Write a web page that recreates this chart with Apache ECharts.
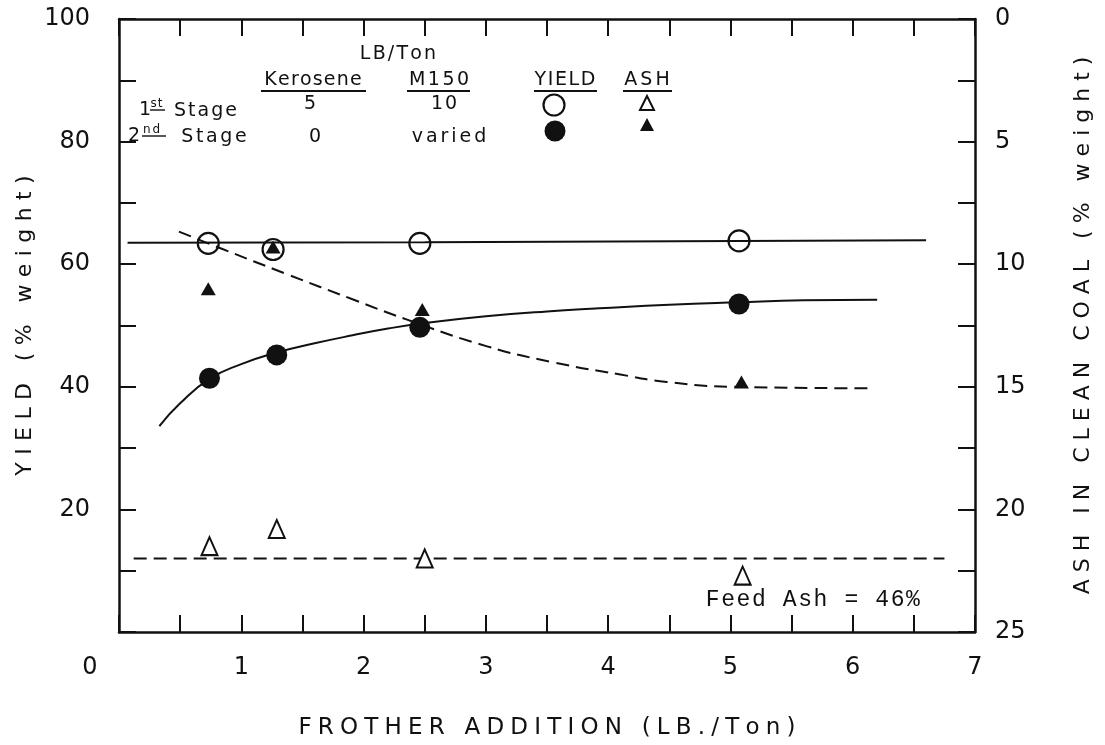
<!DOCTYPE html>
<html><head><meta charset="utf-8">
<script src="https://cdn.jsdelivr.net/npm/echarts@6/dist/echarts.min.js"></script>
<style>html,body{margin:0;padding:0;background:#fff;overflow:hidden}#c{width:1105px;height:745px}</style>
</head><body><div id="c"></div>
<script>
// ---- tick labels ----
const xTickLabels = ['0', '1', '2', '3', '4', '5', '6', '7'];
const yieldTickLabels = ['20', '40', '60', '80', '100'];
const ashTickLabels = ['0', '5', '10', '15', '20', '25'];

// ---- measured points ----
const yield1stX = [0.73, 1.26, 2.46, 5.07];
const yield1st  = [63.4, 62.4, 63.4, 63.8];
const yield2ndX = [0.74, 1.29, 2.46, 5.07];
const yield2nd  = [41.4, 45.2, 49.7, 53.5];
const ash1stX   = [0.74, 1.29, 2.50, 5.10];
const ash1st    = [21.5, 20.8, 22.0, 22.7];
const ash2ndX   = [0.73, 1.26, 2.48, 5.09];
const ash2nd    = [11.0, 9.3, 11.85, 14.8];

// ---- fitted curves ----
const yield1stFitX = [0.07, 2.5, 6.6];
const yield1stFit  = [63.5, 63.6, 63.9];
const yield2ndFitX = [0.33, 0.5, 0.74, 1.0, 1.29, 1.6, 1.91, 2.2, 2.5, 3.0, 3.5, 3.93, 4.5, 5.07, 5.6, 6.2];
const yield2ndFit  = [33.6, 37.3, 41.3, 43.7, 45.6, 47.1, 48.4, 49.5, 50.4, 51.5, 52.3, 52.8, 53.4, 53.8, 54.1, 54.2];
const ash1stFitX = [0.12, 6.75];
const ash1stFit  = [22.0, 22.0];
const ash2ndFitX = [0.49, 0.83, 1.37, 1.92, 2.35, 3.01, 3.55, 4.10, 4.48, 5.02, 6.13];
const ash2ndFit  = [8.67, 9.35, 10.4, 11.45, 12.25, 13.35, 14.0, 14.5, 14.8, 15.0, 15.06];

const INK = '#111';
const FONT = 'DejaVu Sans';

function pairs(xs, ys) { return xs.map((x, i) => [x, ys[i]]); }
// letter-spaced text via rich tokens
function sp(str, key) { return str.split('').map(ch => '{' + key + '|' + ch + '}').join(''); }
function spStyle(size, gap, family) {
  return { fontSize: size, fontFamily: family || FONT, color: INK, fill: INK, padding: [0, gap / 2, 0, gap / 2] };
}

const chart = echarts.init(document.getElementById('c'), null, { renderer: 'canvas', width: 1105, height: 745 });

const tickStyle = { show: true, inside: true, length: 17, lineStyle: { color: INK, width: 2 } };
const lineStyleAxis = { show: true, onZero: false, lineStyle: { color: INK, width: 2.5 } };

function legendText(str, x, y, size, gap, align, family) {
  const r = { k: spStyle(size, gap, family) };
  return {
    type: 'text', x: x, y: y, z: 10,
    style: { text: sp(str, 'k'), rich: r, align: align || 'center', verticalAlign: 'middle', fill: INK, fontSize: size, fontFamily: family || FONT }
  };
}
function uline(x1, x2, y, w) {
  return { type: 'line', z: 10, shape: { x1: x1, y1: y, x2: x2, y2: y }, style: { stroke: INK, lineWidth: w || 1.8 } };
}

const graphics = [
  legendText('LB/Ton', 398, 54, 19, 2.2),
  legendText('Kerosene', 313, 80, 19, 1.2), uline(261, 366, 91),
  legendText('M150', 439, 80, 19, 2.5), uline(407, 470, 91),
  legendText('YIELD', 565, 80, 19, 1.6), uline(534, 597, 91),
  legendText('ASH', 647, 80, 19, 3), uline(623, 672, 91),
  legendText('5', 310, 104, 19, 0),
  legendText('10', 444, 104, 19, 2),
  legendText('0', 315, 137, 19, 0),
  legendText('varied', 449, 137, 19, 3),
  // 1st Stage
  legendText('1', 139, 110, 19, 0, 'left'),
  legendText('st', 150, 104, 12, 1, 'left'), uline(150, 165, 110, 1.4),
  legendText('Stage', 173, 111, 19, 2, 'left'),
  // 2nd Stage
  legendText('2', 128, 136, 19, 0, 'left'),
  legendText('nd', 142, 130, 12, 2, 'left'), uline(142, 166, 136, 1.4),
  legendText('Stage', 180, 137, 19, 2.6, 'left'),
  // legend symbols
  { type: 'circle', z: 10, shape: { cx: 554, cy: 105, r: 10.5 }, style: { fill: 'transparent', stroke: INK, lineWidth: 2.2 } },
  { type: 'circle', z: 10, shape: { cx: 555, cy: 131, r: 10.5 }, style: { fill: INK } },
  { type: 'polygon', z: 10, shape: { points: [[647, 96], [640, 110], [654, 110]] }, style: { fill: '#fff', stroke: INK, lineWidth: 2 } },
  { type: 'polygon', z: 10, shape: { points: [[647, 118], [640, 131], [654, 131]] }, style: { fill: INK } },
  // feed ash note
  legendText('Feed Ash = 46%', 705, 600, 23, 1.6, 'left', 'Liberation Mono')
];

const option = {
  backgroundColor: '#fff',
  animation: false,
  grid: { left: 119, right: 130, top: 19, bottom: 113, containLabel: false, outerBoundsMode: 'none' },
  xAxis: [
    {
      type: 'value', position: 'bottom', min: 0, max: 7, interval: 0.5,
      axisLine: lineStyleAxis, axisTick: tickStyle, splitLine: { show: false },
      axisLabel: {
        margin: 24, fontSize: 24, fontFamily: FONT, color: INK,
        formatter: v => {
          const s = String(v);
          if (!xTickLabels.includes(s)) return '';
          return s === '0' ? '{z|0}' : s;
        },
        rich: { z: { fontSize: 24, fontFamily: FONT, color: INK, padding: [0, 58, 0, 0] } }
      },
      name: sp('FROTHER ADDITION (LB./Ton)', 't'), nameLocation: 'middle', nameGap: 85, nameMoveOverlap: false,
      nameTextStyle: { rich: { t: spStyle(23, 6.2) } }
    },
    {
      type: 'value', position: 'top', min: 0, max: 7, interval: 0.5,
      axisLine: lineStyleAxis, axisTick: tickStyle, axisLabel: { show: false }, splitLine: { show: false }
    }
  ],
  yAxis: [
    {
      type: 'value', position: 'left', min: 0, max: 100, interval: 10,
      axisLine: lineStyleAxis, axisTick: tickStyle, splitLine: { show: false },
      axisLabel: {
        margin: 29, fontSize: 24, fontFamily: FONT, color: INK,
        formatter: v => yieldTickLabels.includes(String(v)) ? String(v) : ''
      },
      name: sp('YIELD (% weight)', 't'), nameLocation: 'middle', nameGap: 83, nameRotate: 90, nameMoveOverlap: false,
      nameTextStyle: { rich: { t: spStyle(22, 7.4) } }
    },
    {
      type: 'value', position: 'right', min: 0, max: 25, interval: 2.5, inverse: true,
      axisLine: lineStyleAxis, axisTick: tickStyle, splitLine: { show: false },
      axisLabel: {
        margin: 20, fontSize: 24, fontFamily: FONT, color: INK,
        formatter: v => ashTickLabels.includes(String(v)) ? String(v) : ''
      },
      name: sp('ASH IN CLEAN COAL (% weight)', 't'), nameLocation: 'middle', nameGap: 97, nameRotate: 90, nameMoveOverlap: false,
      nameTextStyle: { rich: { t: spStyle(22, 7.0) } }
    }
  ],
  graphic: graphics,
  series: [
    { type: 'line', name: 'yield1stFit', yAxisIndex: 0, data: pairs(yield1stFitX, yield1stFit), showSymbol: false, z: 2,
      lineStyle: { color: INK, width: 2 } },
    { type: 'line', name: 'yield2ndFit', yAxisIndex: 0, data: pairs(yield2ndFitX, yield2ndFit), showSymbol: false, smooth: 0.5, z: 2,
      lineStyle: { color: INK, width: 2 } },
    { type: 'line', name: 'ash1stFit', yAxisIndex: 1, data: pairs(ash1stFitX, ash1stFit), showSymbol: false, z: 2,
      lineStyle: { color: INK, width: 2, type: [13, 7] } },
    { type: 'line', name: 'ash2ndFit', yAxisIndex: 1, data: pairs(ash2ndFitX, ash2ndFit), showSymbol: false, smooth: 0.5, z: 2,
      lineStyle: { color: INK, width: 2, type: [13, 7] } },
    { type: 'scatter', name: 'Yield 1st', yAxisIndex: 0, data: pairs(yield1stX, yield1st), symbol: 'circle', symbolSize: 21, z: 4,
      itemStyle: { color: 'rgba(0,0,0,0)', borderColor: INK, borderWidth: 2.2, opacity: 1 } },
    { type: 'scatter', name: 'Yield 2nd', yAxisIndex: 0, data: pairs(yield2ndX, yield2nd), symbol: 'circle', symbolSize: 21, z: 5,
      itemStyle: { color: INK, opacity: 1 } },
    { type: 'scatter', name: 'Ash 1st', yAxisIndex: 1, data: pairs(ash1stX, ash1st), symbol: 'triangle', symbolSize: [16, 18], z: 4,
      itemStyle: { color: '#fff', borderColor: INK, borderWidth: 2, opacity: 1 } },
    { type: 'scatter', name: 'Ash 2nd', yAxisIndex: 1, data: pairs(ash2ndX, ash2nd), symbol: 'triangle', symbolSize: [15, 13], z: 6,
      itemStyle: { color: INK, opacity: 1 } }
  ]
};
chart.setOption(option);
</script>
</body></html>
